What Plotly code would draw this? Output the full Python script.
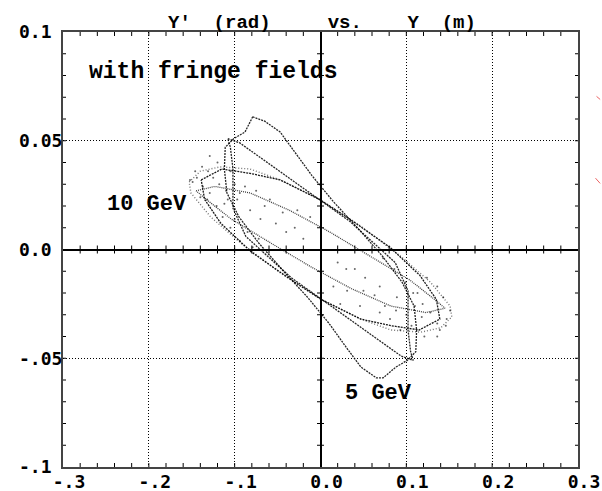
import plotly.graph_objects as go

# ---- axis ticks ----
x_tick_vals = [-0.3, -0.2, -0.1, 0.0, 0.1, 0.2, 0.3]
x_tick_text = ["-.3", "-.2", "-.1", "0.0", "0.1", "0.2", "0.3"]
y_tick_vals = [-0.1, -0.05, 0.0, 0.05, 0.1]
y_tick_text = ["-.1\u00a0", "-.05", "0.0\u00a0", "0.05", "0.1\u00a0"]
x_minor_step = 0.02
y_minor_step = 0.01
title_text = "Y'\u00a0\u00a0(rad)\u00a0\u00a0\u00a0\u00a0\u00a0vs.\u00a0\u00a0\u00a0\u00a0Y\u00a0\u00a0(m)"

# ---- 5 GeV ring with tips (Y, Y') ----
ring5a_y = [-0.079, -0.065, -0.047, -0.030, -0.010, 0.015, 0.043, 0.072, 0.095, 0.109, 0.112, 0.111, 0.101, 0.088, 0.073,
            0.065, 0.047, 0.030, 0.010, -0.015, -0.043, -0.072, -0.095, -0.109, -0.112, -0.111, -0.101, -0.088, -0.079]
ring5a_yp = [0.061, 0.059, 0.054, 0.045, 0.034, 0.022, 0.010, -0.003, -0.015, -0.026, -0.037, -0.047, -0.051, -0.054, -0.059,
             -0.059, -0.054, -0.045, -0.034, -0.022, -0.010, 0.003, 0.015, 0.026, 0.037, 0.047, 0.051, 0.054, 0.061]

# ---- 5 GeV ring with square corners ----
ring5b_y = [-0.108, -0.094, 0.034, 0.087, 0.102, 0.102, 0.105, 0.108, 0.094, -0.034, -0.087, -0.102, -0.102, -0.105, -0.108]
ring5b_yp = [0.051, 0.049, 0.013, -0.006, -0.019, -0.037, -0.047, -0.051, -0.049, -0.013, 0.006, 0.019, 0.037, 0.047, 0.051]

# ---- 10 GeV outer ring ----
ring10o_y = [-0.153, -0.140, -0.117, -0.082, -0.047, -0.001, 0.046, 0.093, 0.128, 0.151, 0.153,
             0.140, 0.117, 0.082, 0.047, 0.001, -0.046, -0.093, -0.128, -0.151, -0.153]
ring10o_yp = [0.031, 0.036, 0.038, 0.037, 0.032, 0.023, 0.011, -0.003, -0.015, -0.026, -0.031,
              -0.036, -0.038, -0.037, -0.032, -0.023, -0.011, 0.003, 0.015, 0.026, 0.031]

# ---- 10 GeV middle ring ----
ring10m_y = [-0.139, -0.115, -0.082, -0.047, -0.001, 0.034, 0.081, 0.116, 0.135, 0.139,
             0.115, 0.082, 0.047, 0.001, -0.034, -0.081, -0.116, -0.135, -0.139]
ring10m_yp = [0.032, 0.037, 0.035, 0.032, 0.023, 0.014, 0.001, -0.012, -0.023, -0.032,
              -0.037, -0.035, -0.032, -0.023, -0.014, -0.001, 0.012, 0.023, 0.032]

# ---- 10 GeV inner ring ----
ring10i_y = [-0.145, -0.123, -0.082, -0.036, 0.011, 0.058, 0.104, 0.133, 0.145,
             0.123, 0.082, 0.036, -0.011, -0.058, -0.104, -0.133, -0.145]
ring10i_yp = [0.027, 0.029, 0.026, 0.018, 0.008, -0.003, -0.014, -0.023, -0.027,
              -0.029, -0.026, -0.018, -0.008, 0.003, 0.014, 0.023, 0.027]

# ---- scattered particles (fuzz) ----
fuzz_y = [-0.152, -0.149, -0.144, -0.137, -0.131, -0.129, -0.125, -0.140, -0.132, -0.121, -0.114, -0.105,
          -0.097, -0.094, -0.082, -0.070, -0.059, -0.044, -0.027, -0.012, -0.094, -0.079, -0.129, -0.108,
          -0.118, -0.110, -0.100, -0.088, -0.075, -0.065, -0.052, -0.040, -0.030, -0.020, -0.146, -0.138,
          -0.120, -0.105, -0.112, -0.100, -0.085, -0.072,
          0.124, 0.136, 0.143, 0.151, 0.147, 0.136, 0.128, 0.119, 0.108, 0.089, 0.069, 0.050, 0.031, 0.015,
          0.081, 0.093, 0.136, 0.069, 0.046, 0.023,
          0.118, 0.110, 0.100, 0.088, 0.075, 0.063, 0.052, 0.040, 0.030, 0.020, 0.146, 0.139,
          0.121, 0.106, 0.113, 0.099, 0.086, 0.073]
fuzz_yp = [0.032, 0.031, 0.033, 0.029, 0.036, 0.043, 0.033, 0.024, 0.023, 0.020, 0.015, 0.010,
           0.023, 0.026, 0.018, 0.014, 0.023, 0.017, 0.018, 0.015, 0.004, 0.001, 0.026, 0.023,
           0.030, 0.027, 0.030, 0.029, 0.027, 0.020, 0.012, 0.008, 0.010, 0.005, 0.036, 0.038,
           0.040, 0.036, 0.021, 0.014, 0.008, 0.005,
           -0.013, -0.017, -0.022, -0.028, -0.032, -0.034, -0.029, -0.025, -0.020, -0.022, -0.017, -0.019, -0.019, -0.017,
           -0.032, -0.037, -0.040, -0.029, -0.026, -0.025,
           -0.031, -0.026, -0.030, -0.028, -0.026, -0.021, -0.013, -0.009, -0.009, -0.006, -0.035, -0.037,
           -0.040, -0.035, -0.020, -0.015, -0.009, -0.004]

X_RANGE = [-0.3, 0.3]
Y_RANGE = [-0.1, 0.1]
W, H = 602, 491
MARGIN = dict(l=63, r=24, t=32, b=24)

fig = go.Figure()

def ring(xs, ys, color, width, dash):
    fig.add_trace(go.Scatter(x=xs, y=ys, mode="lines", showlegend=False, hoverinfo="skip",
                             line=dict(color=color, width=width, dash=dash)))

ring(ring10o_y, ring10o_yp, "rgba(0,0,0,0.55)", 1.4, "1px,2px")
ring(ring10m_y, ring10m_yp, "rgba(0,0,0,0.9)", 1.3, "2px,1px")
ring(ring10i_y, ring10i_yp, "rgba(0,0,0,0.75)", 1.3, "1px,1px")
ring(ring5a_y, ring5a_yp, "rgba(0,0,0,0.85)", 1.3, "2px,1px")
ring(ring5b_y, ring5b_yp, "rgba(0,0,0,0.85)", 1.3, "2px,1px")
fig.add_trace(go.Scatter(x=fuzz_y, y=fuzz_yp, mode="markers", showlegend=False, hoverinfo="skip",
                         marker=dict(color="rgba(0,0,0,0.6)", size=2)))

# ---- tick marks drawn as shapes on the data axes ----
dpx = (X_RANGE[1] - X_RANGE[0]) / (W - MARGIN["l"] - MARGIN["r"])   # data units per pixel (x)
dpy = (Y_RANGE[1] - Y_RANGE[0]) / (H - MARGIN["t"] - MARGIN["b"])   # data units per pixel (y)
nx = int(round((X_RANGE[1] - X_RANGE[0]) / x_minor_step))
ny = int(round((Y_RANGE[1] - Y_RANGE[0]) / y_minor_step))
xs_minor = [X_RANGE[0] + i * x_minor_step for i in range(1, nx)]
ys_minor = [Y_RANGE[0] + i * y_minor_step for i in range(1, ny)]
tick_line = dict(color="black", width=1)
for xv in xs_minor:
    for (ya, yb) in [(Y_RANGE[0], Y_RANGE[0] + 4 * dpy), (Y_RANGE[1], Y_RANGE[1] - 4 * dpy), (-4 * dpy, 4 * dpy)]:
        fig.add_shape(type="line", xref="x", yref="y", x0=xv, x1=xv, y0=ya, y1=yb, line=tick_line)
for yv in ys_minor:
    for (xa, xb) in [(X_RANGE[0], X_RANGE[0] + 3 * dpx), (X_RANGE[1], X_RANGE[1] - 3 * dpx), (-3.5 * dpx, 3.5 * dpx)]:
        fig.add_shape(type="line", xref="x", yref="y", x0=xa, x1=xb, y0=yv, y1=yv, line=tick_line)

def alias(vals, texts):
    d = {}
    for v, t in zip(vals, texts):
        k = "0" if v == 0 else f"{v:g}"
        d[k] = t
        d[k.replace("-", "\u2212")] = t
    return d

tickfont = dict(family="DejaVu Sans Mono", size=18, color="black", weight="bold")
ann_font = dict(family="Liberation Mono", size=22, color="black", weight="bold")
title_font = dict(family="Liberation Mono", size=19, color="black", weight="bold")

fig.update_layout(
    width=W, height=H,
    margin=MARGIN,
    paper_bgcolor="white", plot_bgcolor="white",
    xaxis=dict(range=X_RANGE, tickmode="linear", tick0=0, dtick=0.1,
               labelalias=alias(x_tick_vals, x_tick_text), automargin=False,
               tickfont=tickfont, ticks="", ticklabeloverflow="allow",
               ticklabelshift=6, ticklabelstandoff=-3,
               showgrid=True, gridcolor="black", griddash="1px,2px", gridwidth=1,
               zeroline=True, zerolinecolor="black", zerolinewidth=1.5,
               showline=True, linecolor="#444", linewidth=2, mirror=True),
    yaxis=dict(range=Y_RANGE, tickmode="linear", tick0=0, dtick=0.05,
               labelalias=alias(y_tick_vals, y_tick_text), automargin=False,
               tickfont=tickfont, ticks="", ticklabeloverflow="allow",
               ticklabelstandoff=-5,
               showgrid=True, gridcolor="black", griddash="1px,2px", gridwidth=1,
               zeroline=True, zerolinecolor="black", zerolinewidth=1.5,
               showline=True, linecolor="#444", linewidth=2, mirror=True),
)

annotations = [
    dict(text="with fringe fields", x=-0.1255, y=0.0816, font=dict(ann_font, size=23)),
    dict(text="10 GeV", x=-0.2025, y=0.0205, font=ann_font),
    dict(text="5 GeV", x=0.0680, y=-0.066, font=ann_font),
]
for a in annotations:
    fig.add_annotation(xref="x", yref="y", showarrow=False, xanchor="center", yanchor="middle", **a)

fig.add_annotation(text=title_text, xref="x", yref="paper", x=0.0015, y=1, xanchor="center", yanchor="bottom",
                   yshift=-4, showarrow=False, font=title_font)

# two tiny red marks outside the frame at the right
for (x0, y0, x1, y1) in [(1.036, 0.852, 1.043, 0.845), (1.034, 0.664, 1.043, 0.652)]:
    fig.add_shape(type="line", xref="paper", yref="paper", x0=x0, y0=y0, x1=x1, y1=y1,
                  line=dict(color="rgba(230,60,60,0.8)", width=1))

fig.write_html("out.html")
